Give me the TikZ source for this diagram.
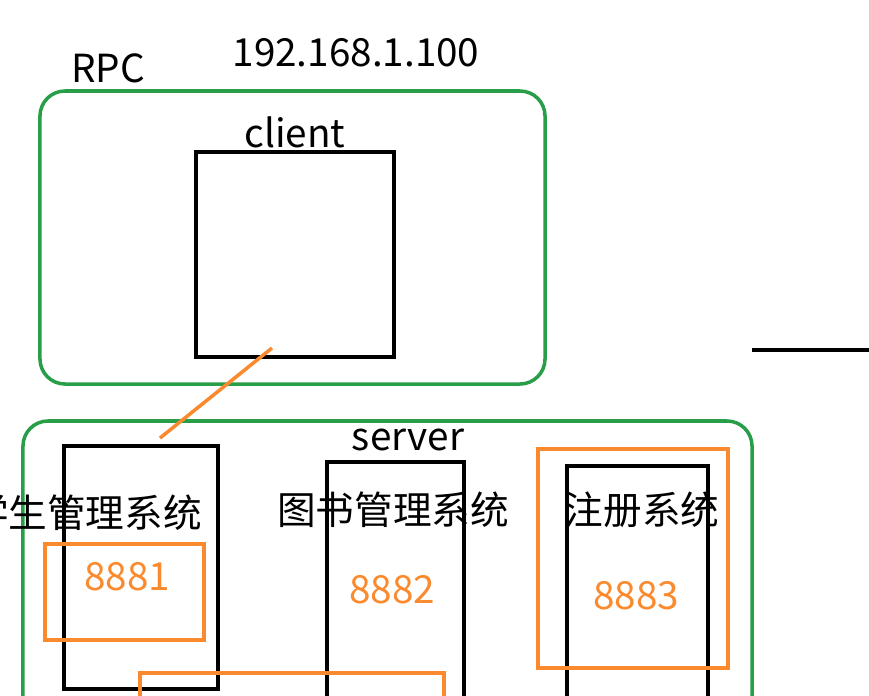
\documentclass[tikz,border=0pt]{standalone}
\usepackage{fontspec}
\setmainfont{Noto Sans CJK SC}
\usetikzlibrary{positioning}

\definecolor{rpcgreen}{RGB}{40,158,72}
\definecolor{portorange}{RGB}{250,138,45}

\begin{document}
\begin{tikzpicture}[
            x = 0.03cm,
            y = -0.03cm,
            line width = 3pt,
            font = \fontsize{33}{38}\selectfont
        ]

        \tikzset{
            host/.style = {draw = rpcgreen, rounded corners = 0.75cm, inner sep = 0},
            sys/.style = {draw = black, line width = 3.4pt, inner sep = 0},
            port/.style = {draw = portorange, inner sep = 0},
            portnum/.style = {text = portorange},
            lbl/.style = {inner sep = 0}
        }

        \useasboundingbox (0,0) rectangle (869,695);
        \clip (0,0) rectangle (869,695);

        % client side
        \node[host, minimum width=15.15cm, minimum height=8.79cm] (chost) at (292.5,237.5) {};
        \node[sys, minimum width=5.94cm, minimum height=6.15cm] (cbox) at (295,254.5) {};
        \node[lbl] (rpc) at (108,68) {RPC};
        \node[lbl] (ip) at (356,53) {192.168.1.100};
        \node[lbl] (client) at (295,132) {client};

        % server side
        \node[host, minimum width=21.87cm, minimum height=10.17cm] (shost) at (387.5,590.5) {};
        \node[lbl] (server) at (408,440) {server};

        \node[sys, minimum width=4.62cm, minimum height=7.29cm] (stu) at (141,567.5) {};
        \node[sys, minimum width=4.11cm, minimum height=7.8cm] (lib) at (395.5,592) {};
        \node[sys, minimum width=4.23cm, minimum height=7.8cm] (reg) at (637.5,596) {};

        \node[lbl] (stutext) at (86,513) {学生管理系统};
        \node[lbl] (libtext) at (393,510) {图书管理系统};
        \node[lbl] (regtext) at (642,510) {注册系统};

        \node[port, minimum width=4.77cm, minimum height=2.88cm] (p1) at (124.5,592) {};
        \node[port, minimum width=5.7cm, minimum height=6.57cm] (p3) at (633,558.5) {};
        \node[port, minimum width=9.12cm, minimum height=2.01cm] (p4) at (292,706.5) {};

        \node[lbl, portnum] (n1) at (127,577) {8881};
        \node[lbl, portnum] (n2) at (392,590) {8882};
        \node[lbl, portnum] (n3) at (636,596) {8883};

        % call line
        \coordinate (callfrom) at (272,348);
        \coordinate (callto) at (160,438);
        \draw[portorange] (callfrom) -- (callto);

        % line on the right
        \coordinate (rline) at (752,350);
        \coordinate (rend) at (869,350);
        \draw[sys] (rline) -- (rend);

    \end{tikzpicture}
\end{document}
